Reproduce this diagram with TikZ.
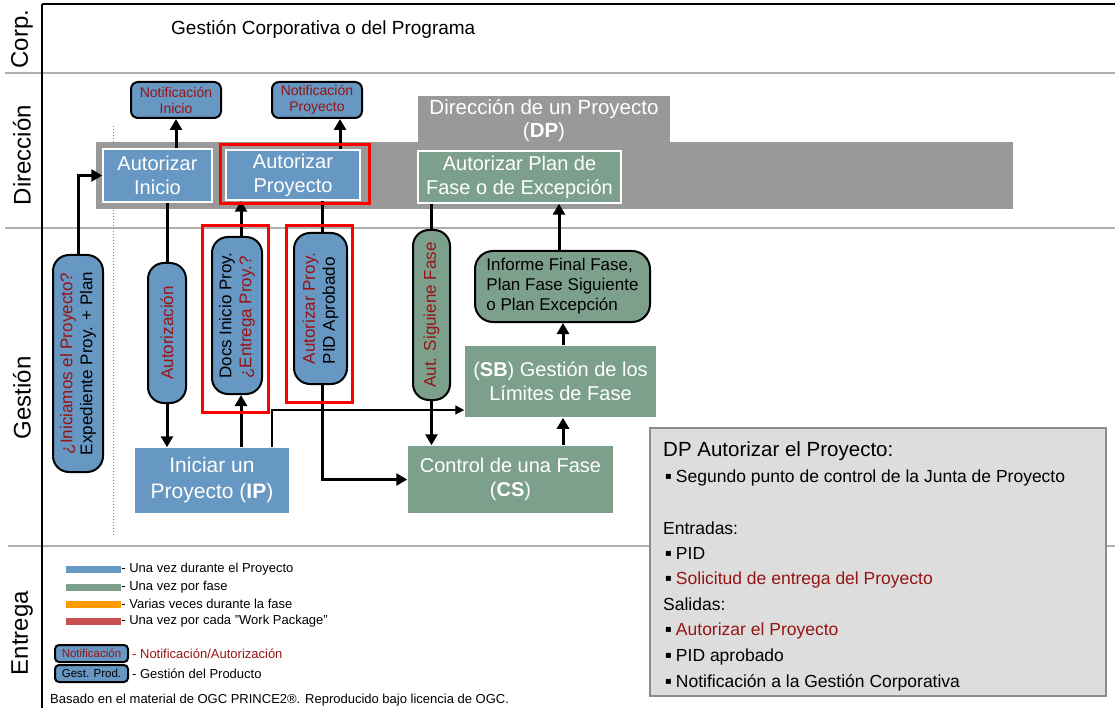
\documentclass[tikz,border=0pt]{standalone}
\usepackage{fontspec}
\setmainfont{Liberation Sans}
\newfontfamily\dejavu{DejaVu Sans}
\usetikzlibrary{arrows.meta}
\definecolor{blueF}{RGB}{103,151,195}
\definecolor{greenF}{RGB}{124,160,140}
\definecolor{bandG}{RGB}{153,153,153}
\definecolor{laneG}{RGB}{175,175,175}
\definecolor{infoF}{RGB}{221,221,221}
\definecolor{infoD}{RGB}{140,140,140}
\definecolor{darkred}{RGB}{150,20,20}
\definecolor{legOr}{RGB}{255,153,0}
\definecolor{legRd}{RGB}{200,80,80}
\newcommand{\bul}{\raisebox{2.5pt}{\dejavu\fontsize{10}{10}\selectfont ▪}\hspace{4pt}}
\pgfdeclarelayer{bg}
\pgfdeclarelayer{conn}
\pgfsetlayers{bg,conn,main}
\begin{document}
\begin{tikzpicture}[x=1pt,y=-1pt,
  box/.style={line width=1.5pt, text=white, align=center, inner sep=0pt, font=\fontsize{20}{24}\selectfont},
  bluebox/.style={box, draw=white, fill=blueF},
  greenbox/.style={box, draw=white, fill=greenF},
  pill/.style={draw=black, line width=2pt, rounded corners=16pt, align=center, inner sep=0pt, font=\fontsize{17}{20}\selectfont},
  notif/.style={draw=black, line width=2pt, rounded corners=7pt, fill=blueF, text=darkred, align=center, inner sep=0pt, font=\fontsize{14}{16}\selectfont},
  redbox/.style={draw=red, line width=3pt, inner sep=0pt},
  arr/.style={line width=3pt, -{Triangle[length=11pt,width=12pt]}},
  thinarr/.style={line width=1.3pt, -{Triangle[length=9pt,width=9pt]}},
  lane/.style={draw=laneG, line width=1.5pt},
  lanelabel/.style={rotate=90, font=\fontsize{24}{28}\selectfont, inner sep=0pt},
  legtext/.style={anchor=west, font=\fontsize{13}{14}\selectfont, inner sep=0pt},
  legbar/.style={minimum width=55pt, minimum height=7pt, inner sep=0pt},
  legpill/.style={draw=black, line width=2pt, rounded corners=4pt, fill=blueF, minimum width=73pt, minimum height=17pt, inner sep=0pt, font=\fontsize{11.5}{12}\selectfont},
  infotext/.style={anchor=base west, inner sep=0pt, font=\fontsize{17.5}{20}\selectfont}
]
\useasboundingbox (0,0) rectangle (1115,708);

\begin{pgfonlayer}{bg}
  \draw[lane] (5,73) -- (1115,73);
  \draw[lane] (5,228) -- (1115,228);
  \draw[lane] (8,546) -- (1115,546);
  \draw[draw=gray, dotted, line width=1pt] (113,126) -- (113,535);
  \fill[bandG] (96,142) rectangle (1013,209);
  \fill[bandG] (418,96) rectangle (670,142);
  \draw[line width=2.5pt] (42,4) -- (1115,4);
  \draw[line width=2.5pt] (42,4) -- (42,708);
\end{pgfonlayer}

% lane labels
\node[lanelabel] (LC) at (22,39) {Corp.};
\node[lanelabel] (LD) at (22,155) {Dirección};
\node[lanelabel] (LG) at (22,398) {Gestión};
\node[lanelabel] (LE) at (22,633) {Entrega};

\node[anchor=west, font=\fontsize{19}{22}\selectfont, inner sep=0pt] (CORP) at (171,29) {Gestión Corporativa o del Programa};

% Direccion
\node[text=white, align=center, font=\fontsize{20.5}{23}\selectfont, inner sep=0pt] (DPT) at (544,121) {Dirección de un Proyecto\\(\textbf{DP})};
\node[notif, minimum width=90pt, minimum height=36pt] (NI) at (176,100) {Notificación\\Inicio};
\node[notif, minimum width=90pt, minimum height=36pt] (NP) at (317,100) {Notificación\\Proyecto};
\node[bluebox, minimum width=109pt, minimum height=53pt] (AI) at (157.5,175.5) {Autorizar\\Inicio};
\node[bluebox, minimum width=134pt, minimum height=50pt] (AP) at (293,175) {Autorizar\\Proyecto};
\node[redbox, minimum width=149pt, minimum height=59pt] (R1) at (294.5,174.5) {};
\node[greenbox, minimum width=203pt, minimum height=52pt] (APF) at (519.5,177) {Autorizar Plan de\\Fase o de Excepción};

% Gestion
\node[pill, fill=blueF, rotate=90, minimum width=217pt, minimum height=50pt] (INI) at (78,363.5) {\textcolor{darkred}{¿Iniciamos el Proyecto?}\\Expediente Proy. + Plan};
\node[pill, fill=blueF, rotate=90, minimum width=140pt, minimum height=38pt] (AUT) at (167,333) {\textcolor{darkred}{Autorización}};
\node[redbox, minimum width=66pt, minimum height=186pt] (R2) at (235,319) {};
\node[pill, fill=blueF, rotate=90, align=left, minimum width=157pt, minimum height=50pt] (DOC) at (237,315.5) {Docs Inicio Proy.\\\textcolor{darkred}{¿Entrega Proy.?}};
\node[redbox, minimum width=66pt, minimum height=176pt] (R3) at (319,314) {};
\node[pill, fill=blueF, rotate=90, align=left, minimum width=151pt, minimum height=53pt] (PID) at (320.5,308.5) {\textcolor{darkred}{Autorizar Proy.}\\PID Aprobado};
\node[pill, fill=greenF, rotate=90, minimum width=170pt, minimum height=37pt] (ASF) at (431.5,315) {\textcolor{darkred}{Aut. Siguiene Fase}};
\node[pill, fill=greenF, rounded corners=18pt, align=left, minimum width=175pt, minimum height=71pt] (INF) at (562.5,286.5) {Informe Final Fase,\\Plan Fase Siguiente\\o Plan Excepción};
\node[box, fill=blueF, font=\fontsize{21}{26}\selectfont, minimum width=154pt, minimum height=65pt] (IP) at (212,480.5) {Iniciar un\\Proyecto (\textbf{IP})};
\node[box, fill=greenF, minimum width=191pt, minimum height=71pt] (SB) at (560.5,381.5) {(\textbf{SB}) Gestión de los\\Límites de Fase};
\node[box, fill=greenF, minimum width=205pt, minimum height=67pt] (CS) at (510.5,479.5) {Control de una Fase\\(\textbf{CS})};

% connectors
\coordinate (xn) at (340,0);
\coordinate (xd) at (241,0);
\coordinate (xp) at (322,0);
\coordinate (xs) at (563,0);
\coordinate (xi) at (559,0);
\coordinate (xt) at (272,0);
\coordinate (yt) at (0,410);
\begin{pgfonlayer}{conn}
  \draw[arr] (NI.south |- AI.north) -- (NI.south);
  \draw[arr] (xn |- AP.north) -- (xn |- NP.south);
  \draw[arr] (INI.east) |- (AI.west);
  \draw[arr] (AUT.center |- AI.south) -- (AUT.center |- IP.north);
  \draw[arr] (xd |- IP.north) -- (xd |- DOC.west);
  \draw[arr] (xd |- DOC.center) -- (xd |- AP.south);
  \draw[arr] (xp |- AP.south) |- (CS.west);
  \draw[arr] (ASF.center |- APF.south) -- (ASF.center |- CS.north);
  \draw[arr] (xs |- CS.north) -- (xs |- SB.south);
  \draw[arr] (xs |- SB.north) -- (xs |- INF.south);
  \draw[arr] (xi |- INF.north) -- (xi |- APF.south);
  \draw[thinarr] (xt |- IP.north) |- (SB.west |- yt);
\end{pgfonlayer}

% info box
\node[draw=infoD, fill=infoF, line width=2pt, minimum width=456pt, minimum height=268pt, anchor=north west, inner sep=0pt] (INFO) at (649,427) {};
\node[infotext, font=\fontsize{20.5}{24}\selectfont] (I1) at (663,456) {DP Autorizar el Proyecto:};
\node[infotext] (I2) at (665,482) {\bul Segundo punto de control de la Junta de Proyecto};
\node[infotext] (I3) at (663,534) {Entradas:};
\node[infotext] (I4) at (665,559) {\bul PID};
\node[infotext] (I5) at (665,584) {\bul \textcolor{darkred}{Solicitud de entrega del Proyecto}};
\node[infotext] (I6) at (663,610) {Salidas:};
\node[infotext] (I7) at (665,635) {\bul \textcolor{darkred}{Autorizar el Proyecto}};
\node[infotext] (I8) at (665,661) {\bul PID aprobado};
\node[infotext] (I9) at (665,687) {\bul Notificación a la Gestión Corporativa};

% legend
\node[legbar, fill=blueF] (LB1) at (93.5,569) {};
\node[legtext] (LT1) at (LB1.east) {- Una vez durante el Proyecto};
\node[legbar, fill=greenF] (LB2) at (93.5,587) {};
\node[legtext] (LT2) at (LB2.east) {- Una vez por fase};
\node[legbar, fill=legOr] (LB3) at (93.5,604) {};
\node[legtext] (LT3) at (LB3.east) {- Varias veces durante la fase};
\node[legbar, fill=legRd] (LB4) at (93.5,621) {};
\node[legtext] (LT4) at (LB4.east) {- Una vez por cada "Work Package"};
\node[legpill, text=darkred] (LN) at (91.5,653.5) {Notificación};
\node[legtext, text=darkred] (LNT) at ([xshift=3pt]LN.east) {- Notificación/Autorización};
\node[legpill] (LP) at (91.5,673.5) {Gest. Prod.};
\node[legtext] (LPT) at ([xshift=3pt]LP.east) {- Gestión del Producto};
\node[legtext, font=\fontsize{13}{14}\selectfont] (FOOT) at (50,700) {Basado en el material de OGC PRINCE2®. Reproducido bajo licencia de OGC.};
\end{tikzpicture}
\end{document}
